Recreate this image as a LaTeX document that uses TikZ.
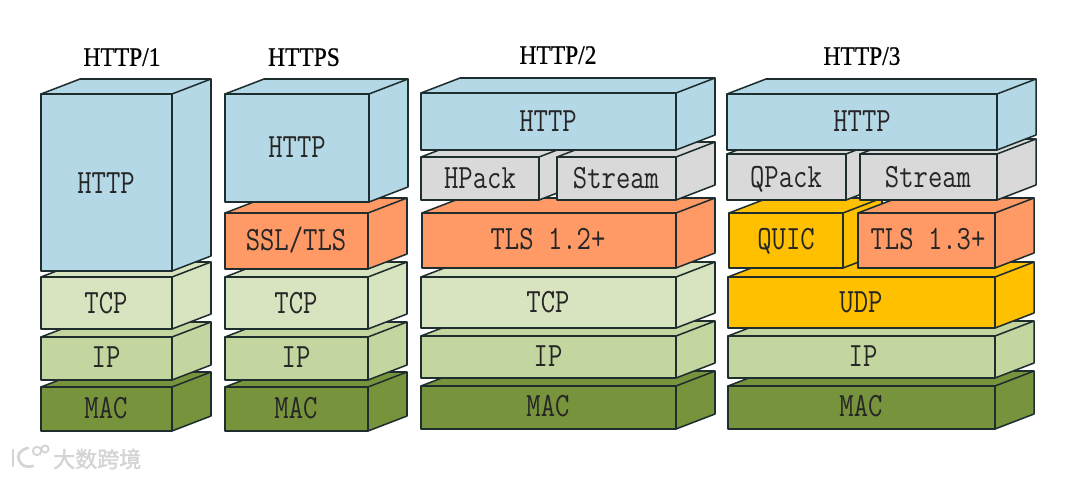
\documentclass[tikz,border=0pt]{standalone}
\usepackage{fontspec}
\usepackage{graphicx}
\newfontfamily\titlefont[FakeBold=0.7]{Liberation Serif}
\newfontfamily\cjkmark[FakeBold=1.5]{Noto Sans CJK SC}
\definecolor{edgec}{HTML}{1E2D2E}
\definecolor{cblue}{HTML}{B5D8E6}
\definecolor{cgrey}{HTML}{D9D9D9}
\definecolor{corange}{HTML}{FF9966}
\definecolor{ctcp}{HTML}{D8E3BF}
\definecolor{cip}{HTML}{C4D6A0}
\definecolor{cmac}{HTML}{77933C}
\definecolor{cyellow}{HTML}{FFC000}
\definecolor{cmark}{HTML}{D4D4D4}
\newcommand{\bodytxt}[1]{\scalebox{1}[1.22]{\fontsize{20.9pt}{22pt}\ttfamily #1}}
\newcommand{\titletxt}[1]{\scalebox{1}[1.13]{#1}}
\newcommand{\layerbox}[5]{% x1, x2, ytop, ybot, colour
  \fill[#5] (#1,#3) -- (#1+39,#3-15) -- (#2+39,#3-15) -- (#2+39,#4-15) -- (#2,#4) -- (#1,#4) -- cycle;
  \draw[stackedge] (#1,#3) rectangle (#2,#4);
  \draw[stackedge] (#1,#3) -- (#1+39,#3-15) -- (#2+39,#3-15) -- (#2,#3);
  \draw[stackedge] (#2+39,#3-15) -- (#2+39,#4-15) -- (#2,#4);
}
\tikzset{
  stackedge/.style={draw=edgec,line width=1.15pt,line join=round},
  bodylabel/.style={inner sep=0pt,anchor=center,text height=15.8pt,text depth=0pt,text=black!85},
  titlelabel/.style={inner sep=0pt,anchor=center,text height=13.2pt,text depth=0pt,text=black,font=\titlefont\fontsize{17.6pt}{20pt}\selectfont},
  marklabel/.style={inner sep=0pt,anchor=west,text=cmark,font=\cjkmark\fontsize{16.5pt}{18pt}\selectfont},
  markline/.style={draw=cmark,line width=2pt,line cap=round}
}
\begin{document}
\begin{tikzpicture}[x=0.75pt,y=-0.75pt]
\useasboundingbox (0,0) rectangle (1080,477);
\fill[white] (0,0) rectangle (1080,477);
% HTTP/1
\layerbox{41}{172}{387}{431}{cmac}
\layerbox{41}{172}{337}{380}{cip}
\layerbox{41}{172}{277}{329}{ctcp}
\layerbox{41}{172}{94}{271}{cblue}
\node[bodylabel] (a1) at (106,183) {\bodytxt{HTTP}};
\node[bodylabel] (a2) at (106,303) {\bodytxt{TCP}};
\node[bodylabel] (a3) at (106,357) {\bodytxt{IP}};
\node[bodylabel] (a4) at (106,408) {\bodytxt{MAC}};
% HTTPS
\layerbox{225}{368}{387}{431}{cmac}
\layerbox{225}{368}{337}{380}{cip}
\layerbox{225}{368}{277}{329}{ctcp}
\layerbox{225}{368}{213}{269}{corange}
\layerbox{225}{369}{94}{202}{cblue}
\node[bodylabel] (b1) at (297,147) {\bodytxt{HTTP}};
\node[bodylabel] (b2) at (296,240) {\bodytxt{SSL/TLS}};
\node[bodylabel] (b3) at (296,303) {\bodytxt{TCP}};
\node[bodylabel] (b4) at (296,357) {\bodytxt{IP}};
\node[bodylabel] (b5) at (296,408) {\bodytxt{MAC}};
% HTTP/2
\layerbox{421}{676}{386}{429}{cmac}
\layerbox{421}{676}{336}{378}{cip}
\layerbox{421}{676}{277}{328}{ctcp}
\layerbox{422}{676}{213}{268}{corange}
\layerbox{421}{539}{157}{200}{cgrey}
\layerbox{557}{676}{157}{200}{cgrey}
\layerbox{421}{676}{93}{150}{cblue}
\node[bodylabel] (c1) at (548,121) {\bodytxt{HTTP}};
\node[bodylabel] (c2) at (480,178) {\bodytxt{HPack}};
\node[bodylabel] (c3) at (616,178) {\bodytxt{Stream}};
\node[bodylabel] (c4) at (548,239) {\bodytxt{TLS 1.2+}};
\node[bodylabel] (c5) at (548,302) {\bodytxt{TCP}};
\node[bodylabel] (c6) at (548,356) {\bodytxt{IP}};
\node[bodylabel] (c7) at (548,406) {\bodytxt{MAC}};
% HTTP/3
\layerbox{728}{995}{386}{429}{cmac}
\layerbox{728}{995}{336}{378}{cip}
\layerbox{728}{995}{277}{328}{cyellow}
\layerbox{729}{843}{213}{268}{cyellow}
\layerbox{858}{995}{213}{268}{corange}
\layerbox{727}{846}{154}{200}{cgrey}
\layerbox{860}{997}{154}{200}{cgrey}
\layerbox{727}{997}{94}{150}{cblue}
\node[bodylabel] (d1) at (862,121) {\bodytxt{HTTP}};
\node[bodylabel] (d2) at (786,177) {\bodytxt{QPack}};
\node[bodylabel] (d3) at (928,177) {\bodytxt{Stream}};
\node[bodylabel] (d4) at (786,239) {\bodytxt{QUIC}};
\node[bodylabel] (d5) at (928,239) {\bodytxt{TLS 1.3+}};
\node[bodylabel] (d6) at (861,302) {\bodytxt{UDP}};
\node[bodylabel] (d7) at (863,356) {\bodytxt{IP}};
\node[bodylabel] (d8) at (861,406) {\bodytxt{MAC}};
% titles
\node[titlelabel] (t1) at (122,57) {\titletxt{HTTP/1}};
\node[titlelabel] (t2) at (304,57) {\titletxt{HTTPS}};
\node[titlelabel] (t3) at (558,55) {\titletxt{HTTP/2}};
\node[titlelabel] (t4) at (862,56) {\titletxt{HTTP/3}};
% watermark
\draw[markline] (13,450) -- (13,466);
\draw[markline] (28,448) .. controls (19,450) and (17,456) .. (19,460) .. controls (21,466) and (27,468) .. (33,466);
\draw[markline,line width=1.4pt] (37,451) circle (4.2);
\draw[markline,line width=1.4pt] (45,449) circle (3.6);
\node[marklabel] (w1) at (53,459) {大数跨境};
\end{tikzpicture}
\end{document}
